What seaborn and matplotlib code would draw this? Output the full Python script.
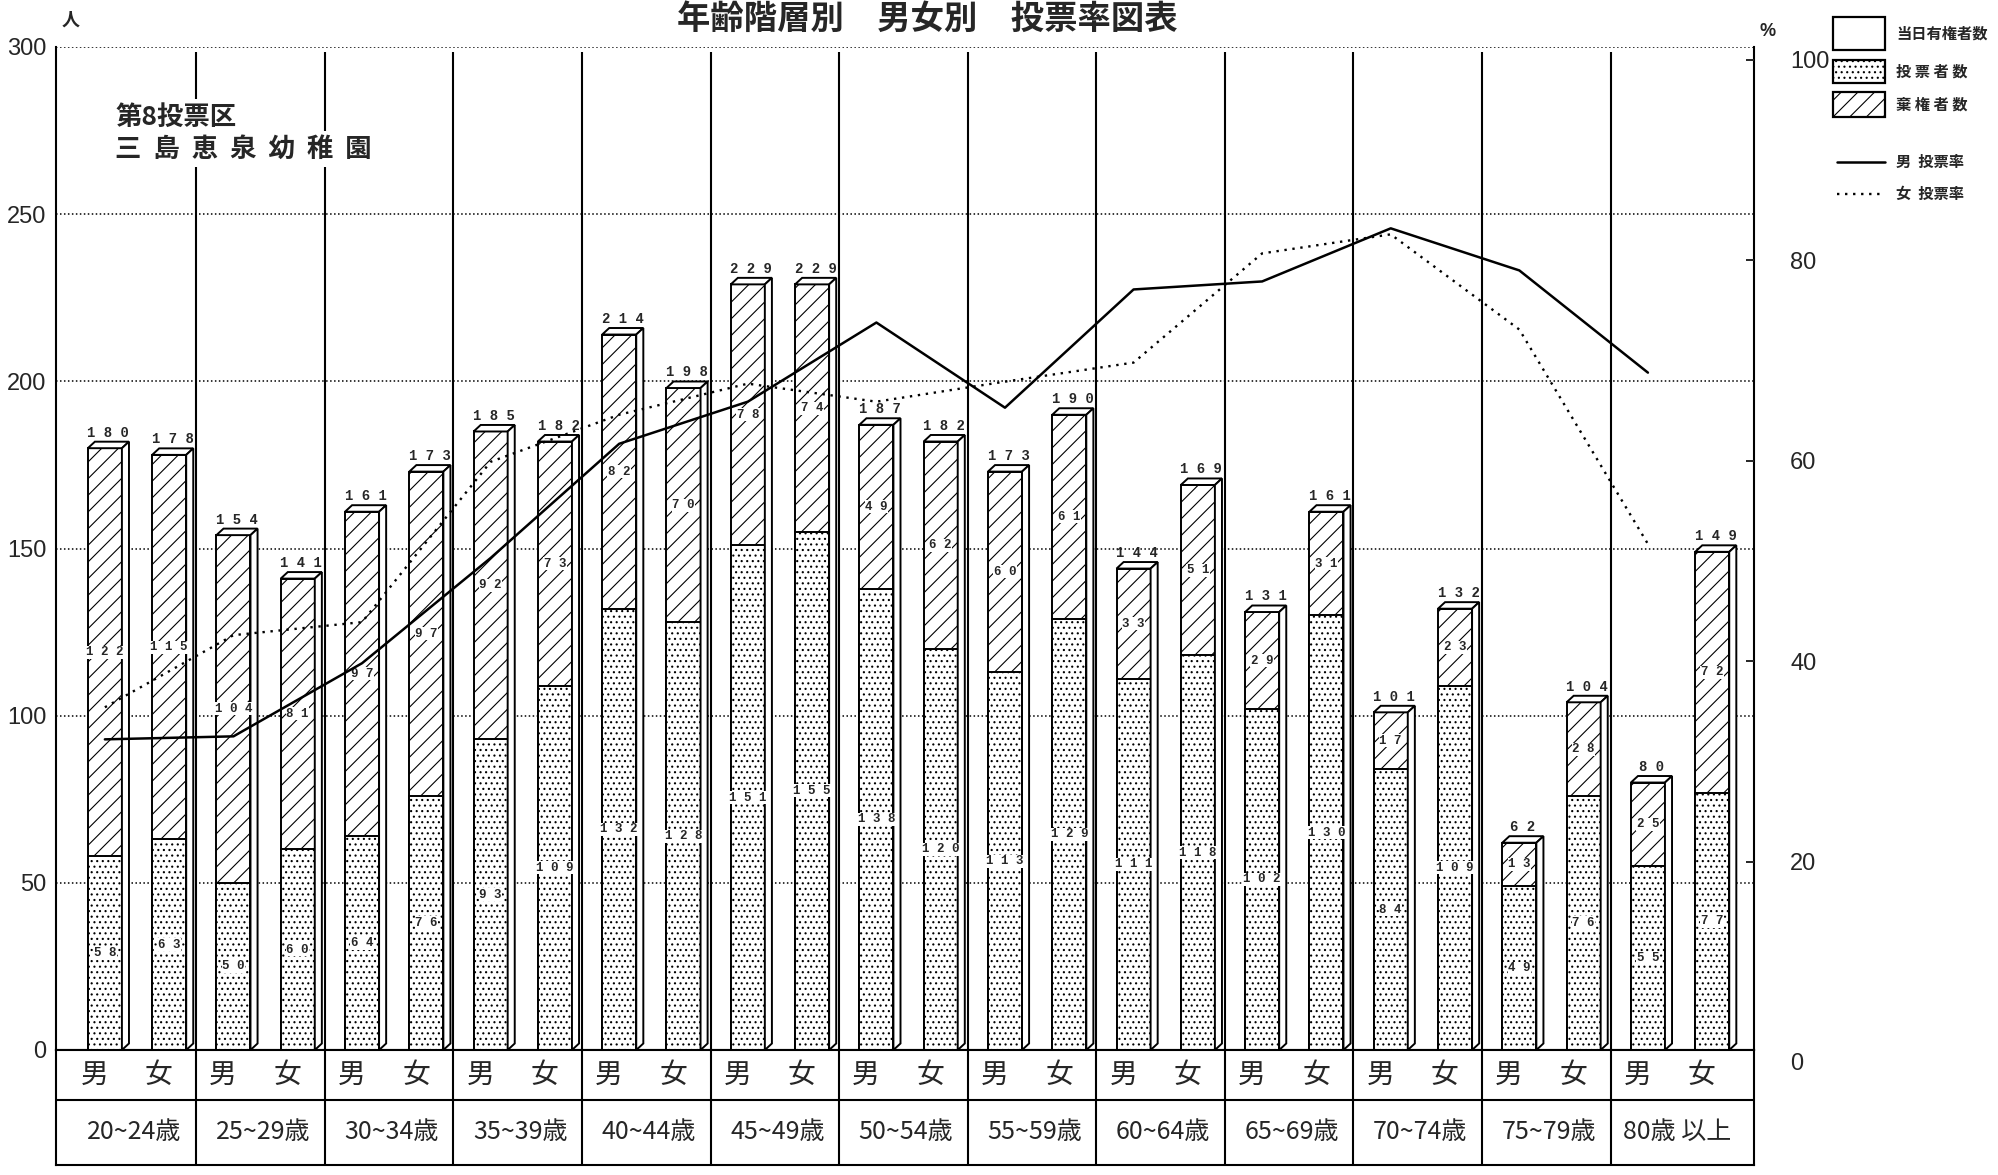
import numpy as np
import pandas as pd
import matplotlib
matplotlib.use('Agg')
import matplotlib.pyplot as plt
import seaborn as sns
from matplotlib import font_manager
from matplotlib.patches import Rectangle, Polygon
from matplotlib.lines import Line2D

# ==========================================
# Data
# ==========================================
ages = ['20~24歳', '25~29歳', '30~34歳', '35~39歳', '40~44歳', '45~49歳', '50~54歳',
        '55~59歳', '60~64歳', '65~69歳', '70~74歳', '75~79歳', '80歳 以上']
sexes = ['男', '女']

male_total = [180, 154, 161, 185, 214, 229, 187, 173, 144, 131, 101, 62, 80]
male_voters = [58, 50, 64, 93, 132, 151, 138, 113, 111, 102, 84, 49, 55]
male_abstain = [122, 104, 97, 92, 82, 78, 49, 60, 33, 29, 17, 13, 25]

female_total = [178, 141, 173, 182, 198, 229, 182, 190, 169, 161, 132, 104, 149]
female_voters = [63, 60, 76, 109, 128, 155, 120, 129, 118, 130, 109, 76, 77]
female_abstain = [115, 81, 97, 73, 70, 74, 62, 61, 51, 31, 23, 28, 72]

male_rate = [32.2, 32.5, 39.8, 50.3, 61.7, 65.9, 73.8, 65.3, 77.1, 77.9, 83.2, 79.0, 68.8]
female_rate = [35.4, 42.6, 43.9, 59.9, 64.6, 67.7, 65.9, 67.9, 69.8, 80.7, 82.6, 73.1, 51.7]

count_ticks = [0, 50, 100, 150, 200, 250, 300]
rate_ticks = [0, 20, 40, 60, 80, 100]

# ==========================================
# Style
# ==========================================
sns.set_style('white')
plt.rcParams['font.family'] = ['Noto Sans CJK JP', 'DejaVu Sans']
plt.rcParams['hatch.linewidth'] = 0.8
plt.rcParams['hatch.color'] = 'black'

installed = {f.name for f in font_manager.fontManager.ttflist}
NUM_FONT = 'Liberation Sans Narrow' if 'Liberation Sans Narrow' in installed else 'Liberation Sans'
MONO = 'Liberation Mono'

W, H = 1998, 1175
def fx(px): return px / W
def fy(py): return 1 - py / H

XLIM = (-0.63, 12.575)
seps = np.arange(12) + 0.46
DX, DY = 0.055, 1.95   # depth of the 3D boxes (data units)
spaced = lambda v: ' '.join(str(v))

fig = plt.figure(figsize=(W / 100, H / 100), dpi=100, facecolor='white')
ax = fig.add_axes([fx(56), fy(1050), fx(1754) - fx(56), fy(47) - fy(1050)])

df = pd.DataFrame({
    'age': ages * 2,
    'sex': ['男'] * len(ages) + ['女'] * len(ages),
    'total': male_total + female_total,
    'voters': male_voters + female_voters,
    'abstain': male_abstain + female_abstain,
})

common = dict(data=df, x='age', hue='sex', order=ages, hue_order=sexes,
              palette={'男': 'white', '女': 'white'}, width=1.0, gap=0.47,
              errorbar=None, edgecolor='black', linewidth=1.4, legend=False,
              ax=ax, zorder=3)
sns.barplot(y='total', hatch='//', **common)
sns.barplot(y='voters', hatch='...', **common)

# 3D top and side faces + value labels
for k, sex in enumerate(sexes):
    sub = df[df['sex'] == sex].reset_index(drop=True)
    for p, (_, row) in zip(ax.containers[k], sub.iterrows()):
        x0, w, h = p.get_x(), p.get_width(), p.get_height()
        top = [(x0, h), (x0 + DX, h + DY), (x0 + w + DX, h + DY), (x0 + w, h)]
        side = [(x0 + w, 0), (x0 + w + DX, DY), (x0 + w + DX, h + DY), (x0 + w, h)]
        for pts in (top, side):
            ax.add_patch(Polygon(pts, closed=True, facecolor='white', edgecolor='black',
                                 lw=1.4, zorder=3))
        ax.text(x0 + w / 2 + DX / 2, h + DY + 0.6, spaced(row['total']), ha='center',
                va='bottom', fontsize=10, fontweight='bold', family=MONO, zorder=6)
        box = dict(facecolor='white', edgecolor='none', pad=0.4)
        ax.text(x0 + w / 2, row['voters'] + row['abstain'] / 2, spaced(row['abstain']),
                ha='center', va='center', fontsize=9, fontweight='bold', family=MONO,
                bbox=box, zorder=6)
        ax.text(x0 + w / 2, row['voters'] / 2, spaced(row['voters']), ha='center',
                va='center', fontsize=9, fontweight='bold', family=MONO, bbox=box, zorder=6)

ax.vlines(seps, 0, 298.5, color='black', lw=1.5, zorder=2)
ax.set_xlim(*XLIM)
ax.set_ylim(0, 300)
ax.set_xticks([])
ax.set_xlabel('')
ax.set_ylabel('')
ax.set_yticks(count_ticks, labels=[str(t) for t in count_ticks])
ax.tick_params(axis='y', length=0, pad=7, labelsize=17)
for lbl in ax.get_yticklabels():
    lbl.set_fontfamily(NUM_FONT)
ax.set_axisbelow(True)
ax.yaxis.grid(True, linestyle=(0, (1, 1.6)), color='black', lw=1.1)
ax.spines['top'].set_visible(False)
for s in ('left', 'right', 'bottom'):
    ax.spines[s].set_linewidth(1.5)
    ax.spines[s].set_color('black')

# station label
label_box = dict(facecolor='white', edgecolor='none', pad=3)
ax.text(fx(115), fy(117), '第8投票区', transform=fig.transFigure, fontsize=19,
        fontweight='bold', va='center', ha='left', bbox=label_box, zorder=7)
ax.text(fx(115), fy(149), '三  島  恵  泉  幼  稚  園', transform=fig.transFigure,
        fontsize=19, fontweight='bold', va='center', ha='left', bbox=label_box, zorder=7)

# ==========================================
# Turnout lines (right axis)
# ==========================================
ax2 = fig.add_axes([fx(56), fy(1062), fx(1754) - fx(56), fy(60) - fy(1062)])
ax2.patch.set_alpha(0)
pos = np.arange(len(ages)) - 0.25
sns.lineplot(x=pos, y=male_rate, ax=ax2, color='black', lw=1.8)
sns.lineplot(x=pos, y=female_rate, ax=ax2, color='black', lw=1.7, linestyle=(0, (1, 2.4)))
ax2.set_xlim(*XLIM)
ax2.set_ylim(0, 100)
ax2.set_xticks([])
ax2.yaxis.tick_right()
ax2.set_yticks(rate_ticks, labels=[str(t) for t in rate_ticks])
ax2.tick_params(axis='y', direction='in', length=6, width=1.4, pad=26, labelsize=17)
for lbl in ax2.get_yticklabels():
    lbl.set_fontfamily(NUM_FONT)
for s in ax2.spines.values():
    s.set_visible(False)

fig.text(fx(62), fy(20), '人', fontsize=13, fontweight='bold', ha='left', va='center')
fig.text(fx(1760), fy(32), '%', fontsize=13, fontweight='bold', ha='left', va='center',
         family=NUM_FONT)

# ==========================================
# Table under the chart
# ==========================================
tax = fig.add_axes([fx(56), fy(1165), fx(1754) - fx(56), fy(1050) - fy(1165)])
tax.set_xlim(*XLIM)
tax.set_ylim(0, 2)
tax.set_xticks([])
tax.set_yticks([])
for s in tax.spines.values():
    s.set_linewidth(1.5)
    s.set_color('black')
tax.axhline(1.13, color='black', lw=1.5)
tax.vlines(seps, 0, 2, color='black', lw=1.5)
for i, age in enumerate(ages):
    tax.text(i - 0.33, 1.565, '男', ha='center', va='center', fontsize=20)
    tax.text(i + 0.17, 1.565, '女', ha='center', va='center', fontsize=20)
    tax.text(i - 0.02, 0.574, age, ha='center', va='center', fontsize=18)

# ==========================================
# Legend and title
# ==========================================
leg_boxes = [((1833, 17, 1885, 50), None, '当日有権者数'),
             ((1833, 60, 1885, 83), '...', '投 票 者 数'),
             ((1833, 92, 1885, 117), '//', '棄 権 者 数')]
for (x1, y1, x2, y2), hatch, txt in leg_boxes:
    fig.add_artist(Rectangle((fx(x1), fy(y2)), fx(x2) - fx(x1), fy(y1) - fy(y2),
                             transform=fig.transFigure, facecolor='white', edgecolor='black',
                             lw=1.6, hatch=hatch))
    fig.text(fx(1896), fy((y1 + y2) / 2), txt, fontsize=11, fontweight='bold',
             ha='left', va='center')
fig.add_artist(Line2D([fx(1837), fx(1885)], [fy(162), fy(162)], color='black', lw=1.8))
fig.add_artist(Line2D([fx(1837), fx(1885)], [fy(194), fy(194)], color='black', lw=1.7,
                      linestyle=(0, (1, 2.4))))
fig.text(fx(1896), fy(162), '男  投票率', fontsize=11, fontweight='bold', ha='left', va='center')
fig.text(fx(1896), fy(194), '女  投票率', fontsize=11, fontweight='bold', ha='left', va='center')

fig.text(fx(927), fy(3), '年齢階層別　男女別　投票率図表', fontsize=24, fontweight='bold',
         ha='center', va='top')

fig.savefig('out.png', dpi=100, facecolor='white')
